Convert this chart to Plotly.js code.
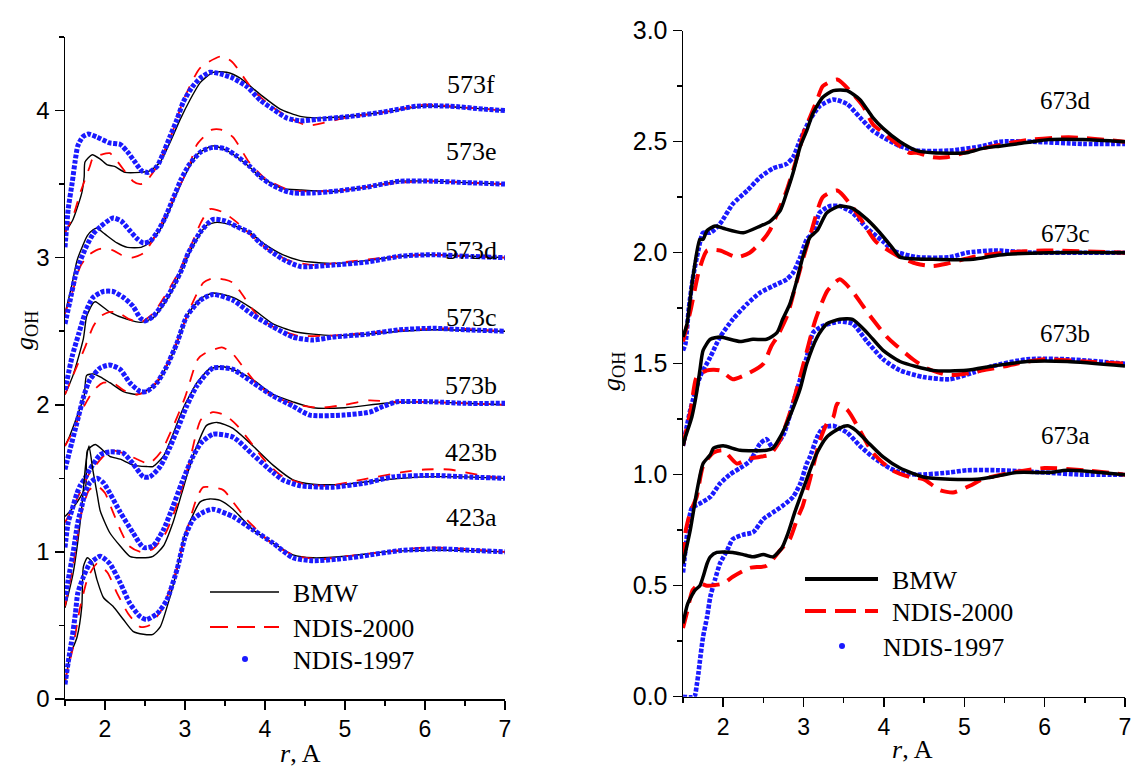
<!DOCTYPE html>
<html>
<head>
<meta charset="utf-8">
<script src="https://cdn.plot.ly/plotly-3.0.1.min.js"></script>
<style>html,body{margin:0;padding:0;background:#fff}#chart{width:1137px;height:769px}</style>
</head>
<body>
<div id="chart"></div>
<script>
// ---------------- LEFT PANEL DATA ----------------
// 573f (baseline 4.0)
const L573f_bmw_x = [1.5,1.6,1.71,1.74,1.75,1.84,1.94,2.03,2.12,2.25,2.44,2.56,2.69,2.81,2.94,3.06,3.19,3.35,3.52,3.69,3.94,4.19,4.44,4.65,5.0,5.5,6.0,6.5,7.0];
const L573f_bmw_y = [3.17,3.26,3.44,3.55,3.65,3.70,3.67,3.63,3.62,3.58,3.58,3.59,3.65,3.78,3.94,4.07,4.19,4.26,4.26,4.22,4.11,4.01,3.96,3.95,3.96,3.99,4.03,4.02,4.0];
const L573f_n97_x = [1.5,1.54,1.59,1.625,1.66,1.72,1.79,1.9,2.06,2.19,2.28,2.375,2.46,2.54,2.65,2.72,2.81,2.9,2.98,3.09,3.19,3.31,3.44,3.6,3.78,3.94,4.1,4.27,4.44,4.65,5.06,5.48,5.9,6.31,6.73,7.0];
const L573f_n97_y = [3.07,3.33,3.51,3.65,3.76,3.82,3.84,3.82,3.78,3.77,3.72,3.65,3.59,3.58,3.62,3.70,3.82,3.94,4.06,4.16,4.22,4.26,4.25,4.22,4.16,4.07,4.01,3.95,3.93,3.94,3.96,3.99,4.03,4.03,4.01,4.0];
const L573f_n00_x = [1.5,1.6,1.69,1.81,1.85,1.95,2.06,2.16,2.35,2.44,2.5,2.65,2.84,2.98,3.19,3.46,3.59,3.85,4.1,4.52,5.0,5.5,6.0,6.5,7.0];
const L573f_n00_y = [3.17,3.28,3.44,3.62,3.68,3.70,3.71,3.65,3.52,3.50,3.51,3.62,3.85,4.07,4.29,4.37,4.33,4.14,4.02,3.90,3.95,3.99,4.04,4.02,4.0];
// 573e (baseline 3.5)
const L573e_bmw_x = [1.5,1.58,1.65,1.72,1.78,1.85,1.9,2.0,2.15,2.28,2.45,2.55,2.7,2.85,3.0,3.15,3.35,3.55,3.8,3.94,4.22,4.44,4.85,5.27,5.69,6.1,6.52,7.0];
const L573e_bmw_y = [2.62,2.8,2.98,3.08,3.15,3.19,3.2,3.16,3.1,3.07,3.07,3.1,3.2,3.38,3.56,3.7,3.76,3.72,3.62,3.55,3.47,3.46,3.45,3.48,3.52,3.52,3.51,3.5];
const L573e_n97_x = [1.5,1.56,1.65,1.77,1.85,1.94,2.1,2.2,2.3,2.4,2.48,2.56,2.65,2.75,2.85,2.95,3.05,3.2,3.35,3.5,3.65,3.81,3.94,4.1,4.22,4.35,4.6,4.85,5.27,5.69,6.1,6.52,7.0];
const L573e_n97_y = [2.55,2.7,2.92,3.08,3.16,3.21,3.27,3.25,3.19,3.13,3.10,3.11,3.17,3.27,3.4,3.53,3.63,3.72,3.75,3.74,3.69,3.62,3.55,3.49,3.46,3.44,3.44,3.45,3.48,3.52,3.52,3.51,3.5];
const L573e_n00_x = [1.5,1.6,1.69,1.8,1.94,2.1,2.2,2.34,2.48,2.6,2.75,2.9,3.05,3.15,3.34,3.45,3.6,3.8,4.0,4.3,4.6,5.0,5.5,6.0,6.5,7.0];
const L573e_n00_y = [2.62,2.78,2.94,3.02,3.06,3.05,3.02,3.0,3.03,3.12,3.28,3.45,3.62,3.77,3.87,3.87,3.82,3.65,3.54,3.46,3.45,3.46,3.5,3.52,3.51,3.5];
// 573d (baseline 3.0)
const L573d_bmw_x = [1.5,1.6,1.73,1.77,1.85,1.88,2.06,2.28,2.45,2.6,2.73,2.85,2.96,3.1,3.27,3.4,3.6,3.81,4.0,4.22,4.44,4.85,5.27,5.69,6.1,7.0];
const L573d_bmw_y = [2.07,2.2,2.45,2.6,2.69,2.70,2.63,2.58,2.56,2.59,2.68,2.79,2.92,3.08,3.22,3.24,3.22,3.17,3.09,3.02,2.98,2.96,2.98,3.01,3.02,3.0];
const L573d_n97_x = [1.5,1.59,1.67,1.75,1.85,1.98,2.1,2.23,2.35,2.44,2.5,2.6,2.73,2.85,2.96,3.04,3.2,3.35,3.5,3.65,3.81,3.94,4.22,4.44,4.85,5.27,5.69,6.1,6.5,7.0];
const L573d_n97_y = [2.10,2.33,2.48,2.62,2.73,2.77,2.77,2.73,2.67,2.59,2.57,2.60,2.69,2.80,2.92,3.03,3.18,3.26,3.25,3.21,3.17,3.1,2.99,2.94,2.95,2.97,3.01,3.02,3.01,3.0];
const L573d_n00_x = [1.5,1.6,1.75,1.85,1.94,2.05,2.15,2.31,2.44,2.6,2.75,2.9,3.05,3.2,3.31,3.47,3.65,3.85,4.05,4.3,4.6,5.0,5.5,6.0,6.5,7.0];
const L573d_n00_y = [2.07,2.2,2.39,2.53,2.6,2.63,2.63,2.58,2.56,2.62,2.74,2.88,3.05,3.24,3.33,3.31,3.24,3.14,3.05,2.98,2.95,2.97,3.0,3.02,3.01,3.0];
// 573c (baseline 2.5)
const L573c_bmw_x = [1.5,1.56,1.65,1.74,1.77,1.85,1.94,2.06,2.23,2.4,2.5,2.65,2.77,2.9,3.02,3.19,3.35,3.6,3.85,4.1,4.35,4.6,4.85,5.27,5.69,6.1,7.0];
const L573c_bmw_y = [1.72,1.79,1.92,2.06,2.2,2.21,2.19,2.15,2.09,2.07,2.09,2.15,2.26,2.42,2.6,2.72,2.76,2.73,2.65,2.55,2.5,2.48,2.47,2.48,2.5,2.51,2.5];
const L573c_n97_x = [1.5,1.56,1.65,1.73,1.81,1.94,2.06,2.19,2.31,2.44,2.52,2.65,2.77,2.9,3.02,3.19,3.35,3.6,3.85,4.1,4.35,4.6,4.85,5.27,5.69,6.1,6.5,7.0];
const L573c_n97_y = [1.56,1.69,1.88,2.05,2.17,2.25,2.27,2.24,2.15,2.09,2.09,2.15,2.26,2.42,2.60,2.71,2.75,2.71,2.61,2.53,2.46,2.44,2.46,2.48,2.51,2.52,2.51,2.5];
const L573c_n00_x = [1.5,1.6,1.7,1.8,1.9,1.98,2.1,2.23,2.4,2.52,2.65,2.8,2.95,3.1,3.23,3.35,3.5,3.6,3.69,3.9,4.1,4.4,4.8,5.3,5.8,6.3,7.0];
const L573c_n00_y = [1.72,1.82,1.95,2.05,2.12,2.15,2.15,2.1,2.07,2.09,2.16,2.3,2.5,2.7,2.83,2.86,2.85,2.83,2.77,2.61,2.53,2.47,2.47,2.49,2.51,2.52,2.5];
// 573b (baseline 2.0)
const L573b_bmw_x = [1.5,1.6,1.69,1.76,1.78,1.88,2.06,2.19,2.35,2.52,2.6,2.73,2.85,2.98,3.15,3.3,3.45,3.6,3.85,4.1,4.35,4.6,5.0,5.5,6.0,6.5,7.0];
const L573b_bmw_y = [1.24,1.3,1.37,1.45,1.69,1.73,1.65,1.63,1.59,1.58,1.58,1.65,1.8,1.98,2.15,2.24,2.26,2.24,2.17,2.07,2.02,1.98,1.98,2.01,2.02,2.01,2.0];
const L573b_n97_x = [1.5,1.54,1.59,1.65,1.69,1.75,1.81,1.94,2.06,2.23,2.35,2.48,2.56,2.69,2.81,2.94,3.02,3.15,3.35,3.6,3.85,4.1,4.35,4.56,4.98,5.31,5.48,5.65,6.1,6.5,7.0];
const L573b_n97_y = [1.03,1.2,1.29,1.4,1.45,1.5,1.56,1.66,1.68,1.67,1.6,1.51,1.51,1.58,1.71,1.88,1.99,2.13,2.25,2.24,2.15,2.06,1.99,1.93,1.93,1.95,1.99,2.02,2.02,2.01,2.01];
const L573b_n00_x = [1.5,1.6,1.7,1.8,1.9,1.98,2.09,2.28,2.4,2.55,2.7,2.85,3.0,3.16,3.25,3.46,3.59,3.75,3.9,4.1,4.4,4.7,5.0,5.3,5.6,6.0,6.5,7.0];
const L573b_n00_y = [1.2,1.3,1.42,1.53,1.6,1.65,1.69,1.66,1.63,1.6,1.68,1.85,2.05,2.31,2.35,2.39,2.35,2.24,2.14,2.06,2.0,1.98,2.0,2.03,2.02,2.02,2.01,2.0];
// 423b (baseline 1.5)
const L423b_bmw_x = [1.5,1.6,1.7,1.76,1.8,1.85,1.9,1.94,2.06,2.19,2.31,2.44,2.6,2.73,2.85,2.96,3.1,3.27,3.4,3.6,3.85,4.1,4.35,4.6,5.0,5.5,6.0,6.5,7.0];
const L423b_bmw_y = [0.62,0.85,1.25,1.6,1.72,1.55,1.4,1.28,1.13,1.04,0.97,0.96,0.97,1.04,1.2,1.4,1.65,1.86,1.88,1.84,1.72,1.59,1.49,1.46,1.46,1.49,1.51,1.51,1.5];
const L423b_n97_x = [1.5,1.54,1.6,1.66,1.71,1.75,1.81,1.9,1.98,2.06,2.19,2.35,2.48,2.6,2.73,2.85,2.96,3.1,3.2,3.35,3.6,3.85,4.1,4.22,4.44,4.85,5.27,5.6,6.1,6.5,7.0];
const L423b_n97_y = [0.67,0.81,0.99,1.2,1.31,1.4,1.47,1.5,1.47,1.4,1.27,1.13,1.03,1.04,1.15,1.31,1.47,1.65,1.74,1.8,1.78,1.66,1.54,1.49,1.45,1.44,1.47,1.51,1.52,1.51,1.5];
const L423b_n00_x = [1.5,1.6,1.7,1.8,1.9,2.0,2.1,2.2,2.3,2.45,2.6,2.75,2.9,3.05,3.2,3.35,3.5,3.65,3.8,4.0,4.2,4.5,4.8,5.2,5.7,6.0,6.3,6.7,7.0];
const L423b_n00_y = [0.63,0.9,1.25,1.42,1.45,1.4,1.27,1.14,1.04,1.0,1.02,1.12,1.32,1.6,1.9,1.95,1.93,1.86,1.76,1.62,1.52,1.46,1.45,1.49,1.54,1.56,1.56,1.52,1.5];
// 423a (baseline 1.0)
const L423a_bmw_x = [1.5,1.56,1.65,1.71,1.73,1.78,1.84,1.9,1.98,2.1,2.23,2.35,2.48,2.6,2.69,2.81,2.9,3.0,3.19,3.31,3.44,3.6,3.85,4.1,4.35,4.6,5.0,5.5,6.0,6.5,7.0];
const L423a_bmw_y = [0.1,0.29,0.42,0.63,0.9,0.96,0.93,0.81,0.69,0.63,0.54,0.46,0.44,0.44,0.49,0.69,0.88,1.12,1.34,1.36,1.35,1.29,1.15,1.06,0.98,0.96,0.97,1.0,1.01,1.01,1.0];
const L423a_n97_x = [1.5,1.54,1.59,1.63,1.66,1.73,1.81,1.94,2.06,2.19,2.31,2.44,2.52,2.65,2.77,2.9,3.0,3.1,3.23,3.35,3.6,3.85,4.1,4.35,4.6,4.9,5.2,5.7,6.2,6.6,7.0];
const L423a_n97_y = [0.1,0.25,0.42,0.58,0.72,0.83,0.92,0.97,0.92,0.79,0.65,0.56,0.54,0.58,0.67,0.88,1.1,1.22,1.27,1.29,1.24,1.15,1.06,0.96,0.94,0.95,0.97,1.01,1.02,1.01,1.0];
const L423a_n00_x = [1.5,1.6,1.68,1.75,1.79,1.9,2.03,2.15,2.29,2.44,2.55,2.7,2.85,3.0,3.15,3.23,3.48,3.6,3.77,3.9,4.1,4.4,4.7,5.0,5.5,6.0,6.5,7.0];
const L423a_n00_y = [0.13,0.35,0.6,0.76,0.83,0.92,0.86,0.72,0.58,0.49,0.5,0.6,0.8,1.1,1.37,1.44,1.42,1.34,1.22,1.15,1.05,0.97,0.95,0.97,1.0,1.03,1.02,1.0];

// ---------------- RIGHT PANEL DATA ----------------
// 673d (baseline 2.5)
const R673d_bmw_x = [1.5,1.55,1.62,1.71,1.75,1.8,1.9,2.0,2.25,2.46,2.58,2.71,2.79,2.87,2.96,3.04,3.12,3.24,3.37,3.54,3.7,3.86,3.99,4.2,4.41,4.61,5.03,5.23,5.44,5.65,6.06,6.48,7.0];
const R673d_bmw_y = [1.62,1.68,1.88,2.06,2.06,2.1,2.12,2.11,2.09,2.12,2.14,2.19,2.27,2.36,2.48,2.55,2.63,2.7,2.73,2.73,2.69,2.61,2.56,2.5,2.46,2.45,2.45,2.47,2.48,2.49,2.51,2.51,2.5];
const R673d_n97_x = [1.5,1.53,1.57,1.62,1.69,1.75,1.84,1.96,2.12,2.3,2.46,2.62,2.79,2.87,2.96,3.08,3.2,3.37,3.54,3.7,3.86,3.99,4.2,4.41,4.82,5.23,5.44,5.85,6.48,7.0];
const R673d_n97_y = [1.56,1.59,1.74,1.88,2.01,2.09,2.09,2.13,2.22,2.28,2.34,2.38,2.4,2.43,2.51,2.6,2.66,2.69,2.67,2.61,2.55,2.52,2.48,2.46,2.46,2.48,2.5,2.5,2.49,2.49];
const R673d_n00_x = [1.5,1.6,1.7,1.8,1.96,2.17,2.33,2.5,2.58,2.7,2.79,2.96,3.0,3.08,3.17,3.24,3.42,3.6,3.74,3.86,3.99,4.32,4.41,4.61,4.78,5.1,5.5,5.85,6.3,7.0];
const R673d_n00_y = [1.6,1.75,1.92,2.01,2.01,1.98,2.0,2.06,2.1,2.2,2.28,2.48,2.54,2.61,2.69,2.75,2.78,2.72,2.66,2.58,2.54,2.45,2.45,2.43,2.43,2.46,2.49,2.51,2.52,2.5];
// 673c (baseline 2.0)
const R673c_bmw_x = [1.5,1.53,1.61,1.67,1.71,1.75,1.84,1.96,2.21,2.37,2.54,2.67,2.74,2.83,2.92,2.99,3.08,3.17,3.29,3.45,3.61,3.79,3.95,4.11,4.2,4.61,5.11,5.44,6.06,7.0];
const R673c_bmw_y = [1.13,1.17,1.26,1.37,1.47,1.56,1.61,1.62,1.6,1.61,1.61,1.64,1.7,1.77,1.88,1.98,2.07,2.1,2.18,2.21,2.2,2.15,2.09,2.02,1.98,1.97,1.97,1.99,2.0,2.0];
const R673c_n97_x = [1.5,1.59,1.71,1.84,1.96,2.12,2.3,2.46,2.62,2.79,2.87,2.96,3.04,3.12,3.2,3.33,3.45,3.61,3.79,3.99,4.11,4.41,4.82,5.03,5.36,5.85,6.5,7.0];
const R673c_n97_y = [1.13,1.29,1.44,1.53,1.62,1.7,1.77,1.82,1.85,1.88,1.91,1.98,2.06,2.09,2.18,2.21,2.21,2.18,2.11,2.05,2.01,1.98,1.98,2.0,2.01,2.0,2.0,2.0];
const R673c_n00_x = [1.5,1.6,1.67,1.8,1.96,2.12,2.33,2.5,2.6,2.67,2.8,2.9,3.0,3.1,3.24,3.42,3.6,3.75,3.9,4.2,4.41,4.61,4.78,5.1,5.5,6.0,7.0];
const R673c_n00_y = [1.13,1.3,1.44,1.47,1.47,1.43,1.46,1.5,1.58,1.62,1.72,1.85,1.98,2.1,2.25,2.28,2.21,2.13,2.05,1.98,1.95,1.94,1.95,1.98,2.0,2.01,2.0];
// 673b (baseline 1.5)
const R673b_bmw_x = [1.5,1.59,1.67,1.75,1.84,1.88,2.0,2.21,2.54,2.62,2.71,2.79,2.87,2.96,3.04,3.17,3.29,3.45,3.61,3.79,3.99,4.2,4.61,5.03,5.36,5.78,6.28,7.0];
const R673b_bmw_y = [0.6,0.75,0.92,1.05,1.09,1.12,1.13,1.11,1.11,1.12,1.17,1.23,1.3,1.39,1.5,1.62,1.68,1.7,1.7,1.64,1.56,1.51,1.47,1.47,1.49,1.51,1.51,1.49];
const R673b_n97_x = [1.5,1.53,1.56,1.61,1.71,1.84,1.96,2.08,2.21,2.33,2.46,2.54,2.62,2.75,2.9,3.04,3.12,3.24,3.45,3.61,3.79,3.99,4.2,4.49,4.82,5.11,5.36,5.78,6.28,7.0];
const R673b_n97_y = [0.56,0.66,0.76,0.85,0.87,0.9,0.96,1.0,1.03,1.06,1.14,1.16,1.12,1.18,1.36,1.53,1.64,1.67,1.69,1.68,1.6,1.52,1.47,1.44,1.43,1.46,1.49,1.52,1.52,1.5];
const R673b_n00_x = [1.5,1.53,1.59,1.67,1.75,1.88,2.0,2.17,2.3,2.45,2.58,2.7,2.85,3.0,3.15,3.3,3.45,3.6,3.74,3.86,4.04,4.16,4.36,4.53,4.78,4.91,5.11,5.23,5.53,5.65,6.0,6.5,7.0];
const R673b_n00_y = [0.62,0.74,0.83,0.9,1.04,1.1,1.11,1.05,1.07,1.08,1.09,1.15,1.3,1.5,1.7,1.83,1.88,1.83,1.76,1.7,1.62,1.58,1.52,1.48,1.45,1.45,1.46,1.47,1.49,1.5,1.52,1.51,1.5];
// 673a (baseline 1.0)
const R673a_bmw_x = [1.5,1.56,1.65,1.71,1.75,1.8,1.84,1.92,2.12,2.25,2.37,2.5,2.62,2.73,2.81,2.89,2.98,3.08,3.17,3.29,3.45,3.55,3.65,3.79,3.99,4.2,4.49,4.82,5.16,5.36,5.65,6.06,6.28,7.0];
const R673a_bmw_y = [0.33,0.42,0.48,0.5,0.54,0.6,0.63,0.65,0.65,0.64,0.63,0.64,0.63,0.67,0.74,0.83,0.92,1.02,1.1,1.17,1.21,1.22,1.2,1.15,1.08,1.03,0.99,0.98,0.98,0.99,1.01,1.01,1.02,1.0];
const R673a_n97_x = [1.5,1.64,1.67,1.69,1.71,1.75,1.8,1.84,1.9,1.96,2.05,2.12,2.25,2.37,2.5,2.62,2.74,2.87,2.96,3.04,3.08,3.17,3.24,3.37,3.54,3.7,3.86,4.07,4.2,4.41,4.82,5.03,5.44,6.0,6.48,7.0];
const R673a_n97_y = [0.0,0.0,0.05,0.1,0.16,0.27,0.36,0.45,0.53,0.6,0.66,0.71,0.73,0.74,0.8,0.83,0.86,0.9,0.96,1.05,1.08,1.17,1.21,1.22,1.19,1.13,1.08,1.03,1.01,1.0,1.01,1.02,1.02,1.01,1.0,1.0];
const R673a_n00_x = [1.5,1.55,1.62,1.71,1.8,2.0,2.12,2.33,2.54,2.71,2.83,2.92,2.99,3.08,3.2,3.29,3.37,3.42,3.55,3.7,3.86,4.1,4.32,4.49,4.7,4.86,5.07,5.23,5.6,6.0,6.5,7.0];
const R673a_n00_y = [0.31,0.38,0.48,0.51,0.5,0.51,0.54,0.58,0.59,0.66,0.71,0.8,0.86,0.98,1.15,1.23,1.26,1.32,1.29,1.2,1.1,1.02,0.99,0.98,0.93,0.92,0.95,0.98,1.01,1.03,1.02,1.0];

// curve labels
const leftLabels  = ["573f","573e","573d","573c","573b","423b","423a"];
const rightLabels = ["673d","673c","673b","673a"];
const seriesNames = ["BMW","NDIS-2000","NDIS-1997"];

// ---------------- BUILD ----------------
const W = 1137, H = 769;
const px = x => x / W, py = y => 1 - y / H;

const leftSets = [
  [L573f_bmw_x,L573f_bmw_y,L573f_n00_x,L573f_n00_y,L573f_n97_x,L573f_n97_y],
  [L573e_bmw_x,L573e_bmw_y,L573e_n00_x,L573e_n00_y,L573e_n97_x,L573e_n97_y],
  [L573d_bmw_x,L573d_bmw_y,L573d_n00_x,L573d_n00_y,L573d_n97_x,L573d_n97_y],
  [L573c_bmw_x,L573c_bmw_y,L573c_n00_x,L573c_n00_y,L573c_n97_x,L573c_n97_y],
  [L573b_bmw_x,L573b_bmw_y,L573b_n00_x,L573b_n00_y,L573b_n97_x,L573b_n97_y],
  [L423b_bmw_x,L423b_bmw_y,L423b_n00_x,L423b_n00_y,L423b_n97_x,L423b_n97_y],
  [L423a_bmw_x,L423a_bmw_y,L423a_n00_x,L423a_n00_y,L423a_n97_x,L423a_n97_y]
];
const rightSets = [
  [R673d_bmw_x,R673d_bmw_y,R673d_n00_x,R673d_n00_y,R673d_n97_x,R673d_n97_y],
  [R673c_bmw_x,R673c_bmw_y,R673c_n00_x,R673c_n00_y,R673c_n97_x,R673c_n97_y],
  [R673b_bmw_x,R673b_bmw_y,R673b_n00_x,R673b_n00_y,R673b_n97_x,R673b_n97_y],
  [R673a_bmw_x,R673a_bmw_y,R673a_n00_x,R673a_n00_y,R673a_n97_x,R673a_n97_y]
];

const traces = [];
function addSet(set, label, xa, ya, right) {
  const bmw = {x:set[0], y:set[1], mode:'lines', xaxis:xa, yaxis:ya, name:seriesNames[0]+' '+label, showlegend:false, hoverinfo:'skip',
    line:{color:'#000000', width: right?3.5:1.4, shape:'spline', smoothing:0.6}};
  const n00 = {x:set[2], y:set[3], mode:'lines', xaxis:xa, yaxis:ya, name:seriesNames[1]+' '+label, showlegend:false, hoverinfo:'skip',
    line:{color:'#ff0000', width: right?4:1.8, dash: right?'17px,9px':'12px,10px', shape:'spline', smoothing:0.6}};
  const n97 = {x:set[4], y:set[5], mode:'lines', xaxis:xa, yaxis:ya, name:seriesNames[2]+' '+label, showlegend:false, hoverinfo:'skip',
    line:{color:'#1a1aff', width: right?4.6:5, dash:'4px,1.6px', shape:'spline', smoothing:0.6}};
  if (right) { traces.push(n97, n00, bmw); } else { traces.push(bmw, n00, n97); }
}
leftSets.forEach((s,i)=>addSet(s, leftLabels[i], 'x', 'y', false));
rightSets.forEach((s,i)=>addSet(s, rightLabels[i], 'x2', 'y2', true));

const sans = '"Liberation Sans", Arial, sans-serif';
const serif = '"Liberation Serif", "Times New Roman", serif';

function xAxis(domain, anchor) {
  return {domain:domain, anchor:anchor, range:[1.5,7], tick0:0, dtick:1, ticks:'outside', ticklen:9, tickwidth:1.5, tickcolor:'#000',
    showline:true, linecolor:'#000', linewidth:1.5, showgrid:false, zeroline:false, tickfont:{family:sans, size:23, color:'#000'}, automargin:false,
    minor:{ticks:'outside', dtick:0.5, tick0:0, ticklen:5, tickwidth:1.5, tickcolor:'#000', showgrid:false}, fixedrange:true};
}
const layout = {
  width:W, height:H, margin:{l:0,r:0,t:0,b:0}, paper_bgcolor:'#fff', plot_bgcolor:'#fff', showlegend:false,
  xaxis: xAxis([65/W, 505/W], 'y'),
  yaxis: {domain:[py(699), py(37)], anchor:'x', range:[0,4.5], tick0:0, dtick:1, ticks:'outside', ticklen:9, tickwidth:1.5, tickcolor:'#000',
    showline:true, linecolor:'#000', linewidth:1.5, showgrid:false, zeroline:false, tickfont:{family:sans, size:24, color:'#000'}, automargin:false,
    minor:{ticks:'outside', dtick:0.5, tick0:0, ticklen:5, tickwidth:1.5, tickcolor:'#000', showgrid:false}, fixedrange:true},
  xaxis2: xAxis([683/W, 1125/W], 'y2'),
  yaxis2: {domain:[py(696.7), py(30.7)], anchor:'x2', range:[0,3], tick0:0, dtick:0.5, tickformat:'.1f', ticks:'outside', ticklen:9, tickwidth:1.5, tickcolor:'#000',
    showline:true, linecolor:'#000', linewidth:1.5, showgrid:false, zeroline:false, tickfont:{family:sans, size:25, color:'#000'}, automargin:false,
    minor:{ticks:'outside', dtick:0.25, tick0:0, ticklen:5, tickwidth:1.5, tickcolor:'#000', showgrid:false}, fixedrange:true},
  annotations: [],
  shapes: []
};

// curve labels
const leftLabelY = [84,151,250,317,385,452,517];
leftLabels.forEach((t,i)=>layout.annotations.push({text:t, xref:'paper', yref:'paper', x:px(471), y:py(leftLabelY[i]), xanchor:'center', yanchor:'middle', showarrow:false, font:{family:serif, size:26, color:'#000'}}));
const rightLabelY = [101,233,333,435];
rightLabels.forEach((t,i)=>layout.annotations.push({text:t, xref:'paper', yref:'paper', x:px(1065), y:py(rightLabelY[i]), xanchor:'center', yanchor:'middle', showarrow:false, font:{family:serif, size:25, color:'#000'}}));

// axis titles
const titleFont = {family:serif, size:26, color:'#000'};
layout.annotations.push({text:'<i>r</i>, A', xref:'paper', yref:'paper', x:px(300), y:py(753), xanchor:'center', yanchor:'middle', showarrow:false, font:titleFont});
layout.annotations.push({text:'<i>r</i>, A', xref:'paper', yref:'paper', x:px(912), y:py(749), xanchor:'center', yanchor:'middle', showarrow:false, font:titleFont});
layout.annotations.push({text:'<i>g</i><sub>OH</sub>', textangle:-90, xref:'paper', yref:'paper', x:px(26), y:py(331), xanchor:'center', yanchor:'middle', showarrow:false, font:titleFont});
layout.annotations.push({text:'<i>g</i><sub>OH</sub>', textangle:-90, xref:'paper', yref:'paper', x:px(613), y:py(372), xanchor:'center', yanchor:'middle', showarrow:false, font:titleFont});

// legends (drawn manually)
function legend(x0, x1, ys, textX, dotX, lw, dash, fs) {
  layout.shapes.push({type:'line', xref:'paper', yref:'paper', x0:px(x0), x1:px(x1), y0:py(ys[0]), y1:py(ys[0]), line:{color:'#000', width:lw[0]}});
  layout.shapes.push({type:'line', xref:'paper', yref:'paper', x0:px(x0), x1:px(x1), y0:py(ys[1]), y1:py(ys[1]), line:{color:'#ff0000', width:lw[1], dash:dash}});
  layout.shapes.push({type:'circle', xref:'paper', yref:'paper', x0:px(dotX-3), x1:px(dotX+3), y0:py(ys[2]+3), y1:py(ys[2]-3), fillcolor:'#1a1aff', line:{color:'#1a1aff', width:0}});
  seriesNames.forEach((n,i)=>layout.annotations.push({text:n, xref:'paper', yref:'paper', x:px(textX[i]), y:py(ys[i]+1), xanchor:'left', yanchor:'middle', showarrow:false, font:{family:serif, size:fs, color:'#000'}}));
}
legend(210, 279, [592,627,659], [291,291,291], 245, [1.4,1.8], '18px,9px', 26);
legend(805, 878, [579,611,646], [890,890,881], 842, [4,4], '21px,9px', 26);

Plotly.newPlot('chart', traces, layout, {staticPlot:true, displayModeBar:false});
</script>
</body>
</html>
